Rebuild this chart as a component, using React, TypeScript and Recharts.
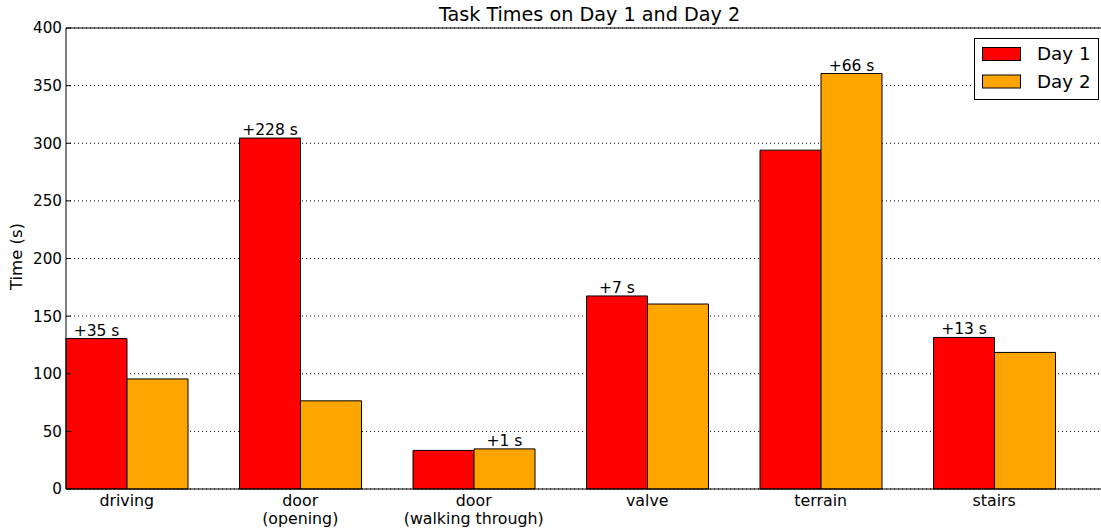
import React from 'react';
import { BarChart, Bar, XAxis, YAxis, CartesianGrid, Legend, LabelList } from 'recharts';

const categories = ['driving', 'door\n(opening)', 'door\n(walking through)', 'valve', 'terrain', 'stairs'];
const day1 = [130.5, 304.5, 33.5, 167.5, 294, 131.5];
const day2 = [95.5, 76.5, 34.8, 160.5, 360.5, 118.5];
const diffLabels = ['+35 s', '+228 s', '+1 s', '+7 s', '+66 s', '+13 s'];
const yTicks = [0, 50, 100, 150, 200, 250, 300, 350, 400];
const seriesNames = ['Day 1', 'Day 2'];
const seriesColors = ['#ff0000', '#ffa500'];
const groupCenter = 0.35;

const data = categories.map((c, i) => ({ x: i + groupCenter, name: c, day1: day1[i], day2: day2[i] }));
const xTicks = data.map((d) => d.x);

const FONT = 'DejaVu Sans';

const XTick = (props: any) => {
  const { x, y, index } = props;
  const lines = categories[index].split('\n');
  return (
    <text x={x} y={y} textAnchor="middle" fontFamily={FONT} fontSize={15.8} fill="#000">
      {lines.map((l, i) => (
        <tspan key={i} x={x} dy={i === 0 ? '0.72em' : 17.5}>{l}</tspan>
      ))}
    </text>
  );
};

const YTick = (props: any) => {
  const { x, y, payload } = props;
  return (
    <g>
      <line x1={x + 4} x2={x + 9} y1={y} y2={y} stroke="#000" strokeWidth={1} />
      <text x={x} y={y} dy="0.36em" textAnchor="end" fontFamily={FONT} fontSize={15.2} fill="#000">
        {payload.value}
      </text>
    </g>
  );
};

const makeLabel = (series: number) => (props: any) => {
  const { x, y, width, index } = props;
  const own = series === 0 ? day1[index] : day2[index];
  const other = series === 0 ? day2[index] : day1[index];
  if (own < other) return null;
  return (
    <text x={x + width / 2} y={y - 3} textAnchor="middle" fontFamily={FONT} fontSize={15.5} fill="#000">
      {diffLabels[index]}
    </text>
  );
};

const LegendBox = (props: any) => {
  const payload = props.payload || [];
  return (
    <svg width={125} height={62} style={{ display: 'block' }}>
      <rect x={0.5} y={0.5} width={124} height={61} fill="#fff" stroke="#000" strokeWidth={1} />
      {payload.map((p: any, i: number) => (
        <g key={i}>
          <rect x={8.5} y={9.5 + i * 27.5} width={38} height={13} fill={p.color} stroke="#000" strokeWidth={1} />
          <text x={63} y={22 + i * 27.5} fontFamily={FONT} fontSize={18.3} fill="#000">{p.value}</text>
        </g>
      ))}
    </svg>
  );
};

const YLabel = (props: any) => {
  const vb = props.viewBox || { x: 0, y: 29, width: 66, height: 460 };
  const cx = vb.x + 16;
  const cy = vb.y + vb.height / 2 - 2;
  return (
    <text x={cx} y={cy} transform={`rotate(-90 ${cx} ${cy})`} textAnchor="middle" dy="0.36em" fontFamily={FONT} fontSize={16.5} fill="#000">
      Time (s)
    </text>
  );
};

export default function App() {
  return (
    <div style={{ position: 'absolute', left: 0, top: 0, width: 1101, height: 531, overflow: 'hidden', background: '#fff' }}>
      <svg width={1107} height={28} style={{ position: 'absolute', left: 0, top: 0 }}>
        <text x={589.5} y={21} textAnchor="middle" fontFamily={FONT} fontSize={19.2} fill="#000">
          Task Times on Day 1 and Day 2
        </text>
      </svg>
      <BarChart
        width={1107}
        height={531}
        data={data}
        margin={{ top: 28, right: 0, bottom: 0, left: 0 }}
        barGap={0}
        barCategoryGap="15%"
      >
        <CartesianGrid horizontal vertical={false} stroke="#000" strokeDasharray="1 3" strokeWidth={1} />
        <XAxis
          dataKey="x"
          type="number"
          domain={[0, 6]}
          ticks={xTicks}
          interval={0}
          height={42}
          tickSize={0}
          tickMargin={6}
          tickLine={false}
          axisLine={{ stroke: '#000', strokeWidth: 1 }}
          tick={<XTick />}
        />
        <XAxis
          xAxisId="top"
          dataKey="x"
          type="number"
          orientation="top"
          domain={[0, 6]}
          ticks={xTicks}
          interval={0}
          height={1}
          mirror
          tickSize={5}
          tick={false}
          tickLine={{ stroke: '#000' }}
          axisLine={{ stroke: '#000', strokeWidth: 1 }}
        />
        <YAxis
          type="number"
          domain={[0, 400]}
          ticks={yTicks}
          interval={0}
          width={66}
          tickSize={0}
          tickMargin={4}
          tickLine={false}
          axisLine={{ stroke: '#000', strokeWidth: 1 }}
          tick={<YTick />}
          label={<YLabel />}
        />
        <Legend
          layout="vertical"
          align="center"
          verticalAlign="middle"
          content={<LegendBox />}
          wrapperStyle={{ position: 'absolute', left: 974, top: 38, width: 125, height: 62 }}
        />
        <Bar dataKey="day1" name={seriesNames[0]} fill={seriesColors[0]} stroke="#000" strokeWidth={1} isAnimationActive={false}>
          <LabelList dataKey="day1" content={makeLabel(0)} />
        </Bar>
        <Bar dataKey="day2" name={seriesNames[1]} fill={seriesColors[1]} stroke="#000" strokeWidth={1} isAnimationActive={false}>
          <LabelList dataKey="day2" content={makeLabel(1)} />
        </Bar>
      </BarChart>
    </div>
  );
}
